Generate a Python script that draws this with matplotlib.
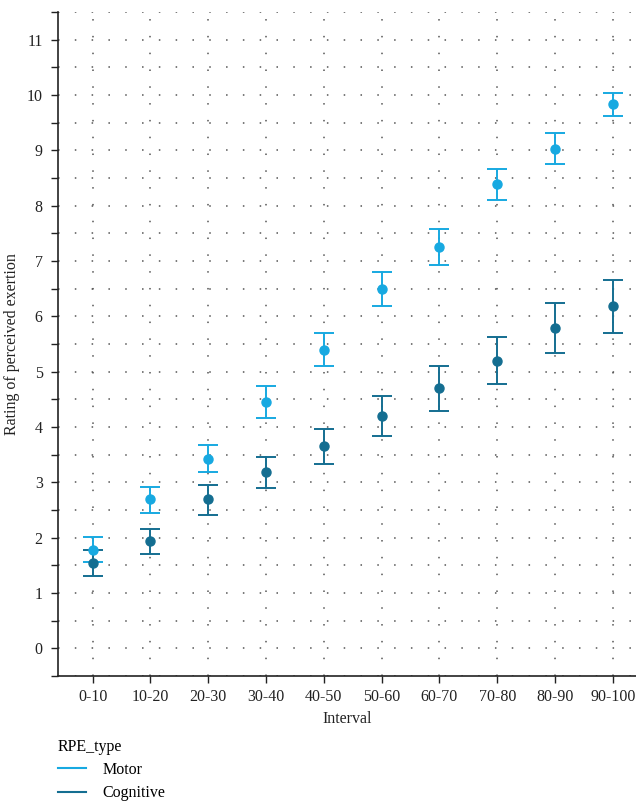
import matplotlib.pyplot as plt
from matplotlib.lines import Line2D
from matplotlib.ticker import MultipleLocator

# Interval categories (percent of task completed)
intervals = ['0-10', '10-20', '20-30', '30-40', '40-50',
             '50-60', '60-70', '70-80', '80-90', '90-100']

# Motor RPE: mean with lower/upper error bar ends
motor_mean = [1.78, 2.69, 3.43, 4.45, 5.40, 6.49, 7.25, 8.39, 9.03, 9.83]
motor_low = [1.56, 2.45, 3.19, 4.16, 5.11, 6.18, 6.92, 8.11, 8.76, 9.62]
motor_high = [2.01, 2.92, 3.68, 4.74, 5.70, 6.80, 7.58, 8.67, 9.31, 10.04]

# Cognitive RPE: mean with lower/upper error bar ends
cog_mean = [1.54, 1.94, 2.69, 3.18, 3.65, 4.20, 4.70, 5.20, 5.79, 6.19]
cog_low = [1.30, 1.71, 2.41, 2.89, 3.34, 3.84, 4.29, 4.77, 5.34, 5.70]
cog_high = [1.77, 2.16, 2.96, 3.46, 3.96, 4.56, 5.11, 5.63, 6.24, 6.66]

motor_color = '#17a9e1'
cog_color = '#146e91'

plt.rcParams['font.family'] = ['Liberation Serif', 'DejaVu Serif']

fig = plt.figure(figsize=(6.36, 8.05), dpi=100)
ax = fig.add_axes([0.0912, 0.1602, 0.9088, 0.825])

x = list(range(len(intervals)))

# Draw each RPE type as points with asymmetric error bars
for mean, low, high, color in [(motor_mean, motor_low, motor_high, motor_color),
                               (cog_mean, cog_low, cog_high, cog_color)]:
    yerr = [[m - l for m, l in zip(mean, low)], [h - m for m, h in zip(mean, high)]]
    ax.errorbar(x, mean, yerr=yerr, fmt='o', color=color, markersize=6.5,
                elinewidth=1.4, capsize=7.5, capthick=1.4, ecolor=color, zorder=3)

# Axis limits and ticks
ax.set_xlim(-0.6, 9.4)
ax.set_ylim(-0.5, 11.5)
ax.set_xticks(x)
ax.set_xticklabels(intervals)
ax.yaxis.set_major_locator(MultipleLocator(1))
ax.yaxis.set_minor_locator(MultipleLocator(0.5))
ax.tick_params(axis='both', which='both', direction='out', length=5, width=1,
               labelsize=11.5, colors='#222222')
ax.tick_params(axis='x', pad=4)
ax.tick_params(axis='y', pad=6)

# Dotted grid lines (integers, halves and categories)
ax.grid(True, which='major', axis='both', linestyle=(0, (1, 10)), linewidth=1.1, color='#555555')
ax.grid(True, which='minor', axis='y', linestyle=(0, (1, 10)), linewidth=1.1, color='#555555')
ax.set_axisbelow(True)

for side in ['top', 'right']:
    ax.spines[side].set_visible(False)
for side in ['left', 'bottom']:
    ax.spines[side].set_linewidth(1.2)
    ax.spines[side].set_color('#222222')

ax.set_xlabel('Interval', fontsize=11.5, labelpad=5, color='#222222')
ax.set_ylabel('Rating of perceived exertion', fontsize=11.5, color='#222222')
ax.yaxis.set_label_coords(-0.066, 0.5)

# Legend below the plot with plain line handles
handles = [Line2D([0], [0], color=motor_color, linewidth=1.5),
           Line2D([0], [0], color=cog_color, linewidth=1.5)]
leg = fig.legend(handles, ['Motor', 'Cognitive'], title='RPE_type', loc='upper left',
                 bbox_to_anchor=(0.068, 0.1), frameon=False, fontsize=11.5,
                 title_fontsize=11.5, alignment='left', handlelength=1.8,
                 handletextpad=1.0, labelspacing=0.45)

fig.savefig('out.png', dpi=100)
